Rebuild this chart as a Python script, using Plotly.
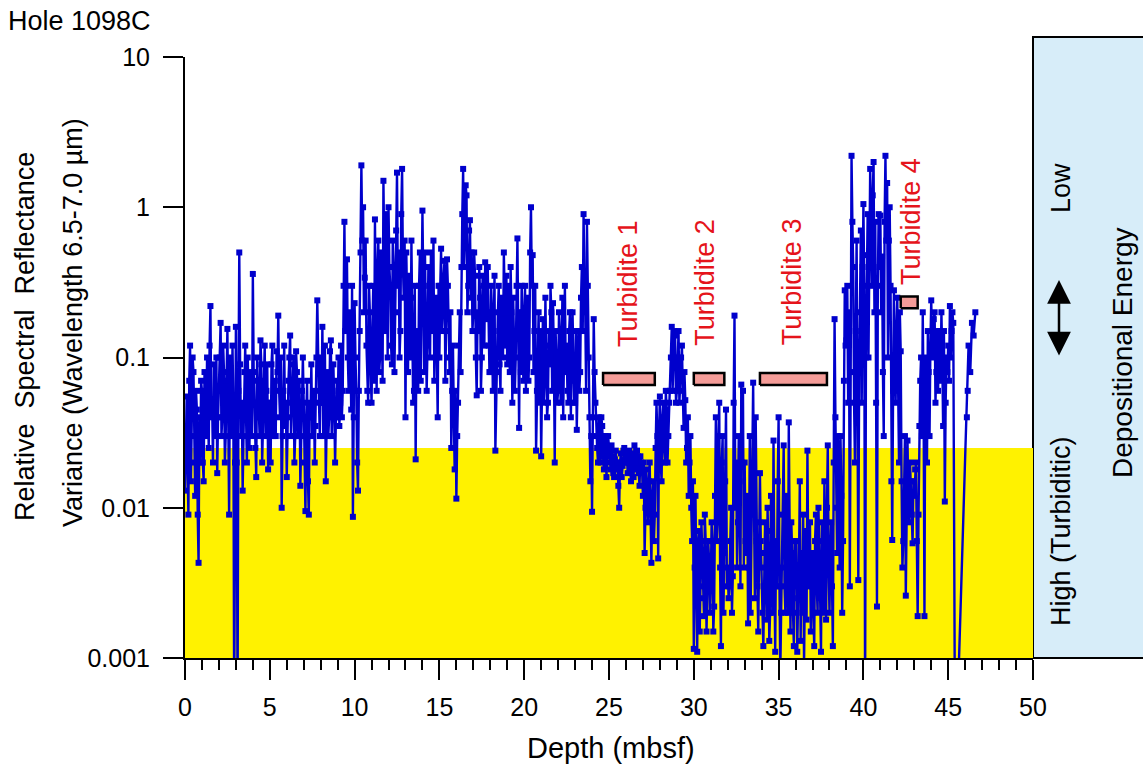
import plotly.graph_objects as go

# ---------------- data ----------------
# Relative spectral reflectance variance; each 5 m block holds samples at
# start + 0.1*k ("var_") and the interleaved samples at start + 0.05 + 0.1*k ("mid_")
block_start = [0.0, 5.0, 10.0, 15.0, 20.0, 25.0, 30.0, 35.0, 40.0]
sample_step = 0.1

var_00_05 = [0.013, 0.055, 0.009, 0.12, 0.03, 0.08, 0.012, 0.045, 0.0043, 0.02,
             0.06, 0.015, 0.04, 0.1, 0.025, 0.22, 0.05, 0.09, 0.03, 0.017,
             0.06, 0.17, 0.04, 0.08, 0.03, 0.155, 0.009, 0.06, 0.12, 0.0005,
             0.16, 0.0005, 0.5, 0.03, 0.013, 0.08, 0.04, 0.1, 0.025, 0.06,
             0.36, 0.05, 0.016, 0.07, 0.03, 0.09, 0.04, 0.12, 0.06, 0.018]
mid_00_05 = [0.03, 0.02, 0.07, 0.015, 0.1, 0.02, 0.06, 0.009, 0.04, 0.07,
             0.02, 0.08, 0.03, 0.05, 0.12, 0.04, 0.02, 0.05, 0.1, 0.04,
             0.1, 0.03, 0.12, 0.02, 0.07, 0.04, 0.1, 0.03, 0.05, 0.02,
             0.02, 0.06, 0.09, 0.05, 0.03, 0.12, 0.02, 0.05, 0.08, 0.03,
             0.08, 0.025, 0.1, 0.04, 0.13, 0.02, 0.07, 0.03, 0.09, 0.05]
var_05_10 = [0.05, 0.09, 0.03, 0.07, 0.11, 0.19, 0.04, 0.01, 0.06, 0.035,
             0.016, 0.07, 0.14, 0.05, 0.1, 0.03, 0.08, 0.045, 0.014, 0.06,
             0.05, 0.0095, 0.07, 0.009, 0.04, 0.03, 0.06, 0.035, 0.24, 0.05,
             0.1, 0.16, 0.05, 0.015, 0.08, 0.04, 0.13, 0.06, 0.045, 0.04,
             0.04, 0.035, 0.12, 0.06, 0.8, 0.3, 0.1, 0.2, 0.045, 0.0087]
mid_05_10 = [0.02, 0.12, 0.05, 0.03, 0.08, 0.06, 0.1, 0.03, 0.12, 0.05,
             0.04, 0.1, 0.03, 0.09, 0.02, 0.11, 0.03, 0.07, 0.03, 0.1,
             0.02, 0.04, 0.015, 0.05, 0.09, 0.04, 0.02, 0.1, 0.06, 0.03,
             0.05, 0.03, 0.12, 0.06, 0.03, 0.11, 0.03, 0.09, 0.02, 0.07,
             0.1, 0.05, 0.04, 0.3, 0.15, 0.45, 0.06, 0.12, 0.3, 0.04]
var_10_15 = [0.23, 0.06, 0.013, 0.15, 1.9, 1.0, 0.34, 0.12, 0.05, 0.2,
             0.05, 0.3, 0.83, 0.06, 0.6, 0.1, 0.25, 1.5, 0.15, 0.5,
             1.0, 0.3, 0.09, 0.4, 0.2, 1.7, 0.5, 0.15, 1.8, 0.25,
             0.04, 0.15, 0.35, 0.1, 0.25, 0.06, 0.021, 0.12, 0.3, 0.07,
             0.95, 0.08, 0.2, 0.12, 0.3, 0.5, 0.15, 0.07, 0.25, 0.04]
mid_10_15 = [0.1, 0.02, 0.06, 0.5, 0.6, 0.2, 0.6, 0.06, 0.3, 0.08,
             0.15, 0.07, 0.2, 0.4, 0.08, 0.5, 0.07, 0.4, 0.9, 0.1,
             0.4, 0.12, 0.6, 0.08, 0.7, 0.3, 0.1, 0.9, 0.4, 0.6,
             0.5, 0.08, 0.2, 0.6, 0.05, 0.3, 0.15, 0.06, 0.5, 0.2,
             0.3, 0.5, 0.06, 0.4, 0.1, 0.25, 0.6, 0.2, 0.1, 0.3]
var_15_20 = [0.1, 0.53, 0.2, 0.44, 0.15, 0.3, 0.08, 0.025, 0.12, 0.018,
             0.0115, 0.05, 0.2, 0.4, 1.8, 0.6, 1.2, 0.3, 0.82, 0.5,
             0.2, 0.35, 0.056, 0.15, 0.25, 0.1, 0.3, 0.43, 0.18, 0.12,
             0.08, 0.2, 0.15, 0.024, 0.1, 0.3, 0.06, 0.18, 0.5, 0.12,
             0.09, 0.2, 0.4, 0.05, 0.15, 0.1, 0.62, 0.034, 0.08, 0.2]
mid_15_20 = [0.3, 0.15, 0.35, 0.07, 0.45, 0.1, 0.2, 0.06, 0.04, 0.06,
             0.03, 0.12, 0.08, 0.9, 0.4, 1.4, 0.2, 0.7, 0.25, 0.15,
             0.5, 0.1, 0.2, 0.4, 0.06, 0.35, 0.12, 0.25, 0.4, 0.08,
             0.3, 0.06, 0.35, 0.08, 0.2, 0.09, 0.25, 0.1, 0.2, 0.35,
             0.3, 0.08, 0.2, 0.25, 0.06, 0.3, 0.15, 0.2, 0.3, 0.07]
var_20_25 = [0.12, 0.06, 0.25, 0.1, 1.0, 0.48, 0.15, 0.024, 0.1, 0.05,
             0.022, 0.18, 0.07, 0.12, 0.05, 0.09, 0.2, 0.23, 0.02, 0.1,
             0.06, 0.15, 0.08, 0.04, 0.3, 0.12, 0.05, 0.2, 0.07, 0.1,
             0.05, 0.033, 0.15, 0.08, 0.4, 0.9, 0.2, 0.8, 0.1, 0.015,
             0.0094, 0.18, 0.05, 0.025, 0.04, 0.02, 0.035, 0.018, 0.03, 0.022]
mid_20_25 = [0.3, 0.15, 0.07, 0.5, 0.3, 0.08, 0.3, 0.06, 0.2, 0.15,
             0.08, 0.05, 0.25, 0.04, 0.15, 0.3, 0.06, 0.1, 0.15, 0.05,
             0.2, 0.05, 0.25, 0.1, 0.08, 0.06, 0.15, 0.04, 0.2, 0.05,
             0.15, 0.1, 0.06, 0.25, 0.15, 0.35, 0.06, 0.3, 0.04, 0.03,
             0.04, 0.08, 0.03, 0.02, 0.03, 0.04, 0.022, 0.03, 0.016, 0.03]
var_25_30 = [0.025, 0.018, 0.022, 0.016, 0.024, 0.02, 0.01, 0.023, 0.019, 0.025,
             0.02, 0.017, 0.024, 0.015, 0.021, 0.026, 0.018, 0.022, 0.014, 0.02,
             0.012, 0.005, 0.018, 0.008, 0.02, 0.0043, 0.015, 0.009, 0.05, 0.0046,
             0.055, 0.015, 0.05, 0.02, 0.045, 0.03, 0.06, 0.16, 0.1, 0.14,
             0.06, 0.15, 0.07, 0.12, 0.034, 0.052, 0.025, 0.012, 0.03, 0.006]
mid_25_30 = [0.02, 0.026, 0.017, 0.021, 0.018, 0.014, 0.02, 0.016, 0.024, 0.02,
             0.023, 0.02, 0.018, 0.023, 0.016, 0.02, 0.024, 0.017, 0.022, 0.018,
             0.02, 0.01, 0.012, 0.015, 0.009, 0.012, 0.006, 0.025, 0.03, 0.03,
             0.02, 0.04, 0.025, 0.06, 0.02, 0.05, 0.1, 0.06, 0.15, 0.05,
             0.1, 0.05, 0.1, 0.06, 0.08, 0.02, 0.04, 0.02, 0.01, 0.015]
var_30_35 = [0.00115, 0.012, 0.0011, 0.007, 0.003, 0.005, 0.0019, 0.006, 0.0028, 0.0045,
             0.003, 0.006, 0.0022, 0.04, 0.008, 0.05, 0.0012, 0.03, 0.005, 0.045,
             0.004, 0.003, 0.01, 0.0035, 0.19, 0.02, 0.008, 0.015, 0.066, 0.06,
             0.02, 0.005, 0.0017, 0.03, 0.009, 0.068, 0.0025, 0.006, 0.0015, 0.017,
             0.004, 0.0012, 0.008, 0.0018, 0.005, 0.002, 0.007, 0.028, 0.0011, 0.003]
mid_30_35 = [0.004, 0.003, 0.006, 0.0015, 0.008, 0.0025, 0.009, 0.0015, 0.006, 0.002,
             0.008, 0.0015, 0.012, 0.006, 0.03, 0.004, 0.02, 0.002, 0.015, 0.003,
             0.0025, 0.006, 0.002, 0.05, 0.01, 0.004, 0.03, 0.003, 0.02, 0.004,
             0.006, 0.012, 0.004, 0.002, 0.02, 0.01, 0.04, 0.003, 0.008, 0.006,
             0.002, 0.005, 0.003, 0.01, 0.0013, 0.012, 0.002, 0.004, 0.006, 0.015]
var_35_40 = [0.04, 0.0008, 0.004, 0.026, 0.002, 0.006, 0.037, 0.0015, 0.005, 0.0012,
             0.003, 0.0011, 0.004, 0.0013, 0.002, 0.0009, 0.007, 0.024, 0.003, 0.0015,
             0.005, 0.0012, 0.009, 0.002, 0.006, 0.0011, 0.004, 0.015, 0.0018, 0.026,
             0.002, 0.008, 0.0012, 0.18, 0.01, 0.03, 0.004, 0.012, 0.006, 0.28,
             0.13, 0.05, 0.003, 2.2, 0.4, 0.02, 0.6, 0.0033, 0.2, 0.05]
mid_35_40 = [0.003, 0.002, 0.009, 0.003, 0.012, 0.002, 0.004, 0.008, 0.002, 0.006,
             0.006, 0.0025, 0.015, 0.005, 0.009, 0.003, 0.0018, 0.004, 0.008, 0.003,
             0.002, 0.006, 0.003, 0.01, 0.0025, 0.008, 0.002, 0.005, 0.01, 0.004,
             0.005, 0.003, 0.02, 0.04, 0.005, 0.015, 0.03, 0.002, 0.07, 0.12,
             0.3, 0.2, 0.08, 0.8, 0.05, 0.15, 0.05, 0.08, 0.7, 0.4]
var_40_45 = [1.05, 0.0005, 0.48, 0.1, 1.8, 0.3, 2.0, 0.8, 0.0022, 0.9,
             0.88, 0.47, 0.03, 2.2, 1.45, 0.6, 0.3, 0.0061, 0.28, 0.05,
             0.25, 0.02, 0.11, 0.004, 0.012, 0.0026, 0.028, 0.008, 0.015, 0.0058,
             0.012, 0.02, 0.0019, 0.035, 0.1, 0.2, 0.0019, 0.06, 0.15, 0.03,
             0.24, 0.1, 0.2, 0.08, 0.06, 0.15, 0.2, 0.035, 0.011, 0.1]
mid_40_45 = [0.3, 0.1, 0.9, 0.5, 0.8, 1.2, 0.2, 0.05, 0.3, 0.4,
             0.2, 0.08, 0.8, 0.6, 0.1, 1.0, 0.015, 0.06, 0.1, 0.15,
             0.06, 0.2, 0.015, 0.006, 0.03, 0.01, 0.012, 0.02, 0.009, 0.015,
             0.018, 0.006, 0.009, 0.07, 0.03, 0.05, 0.1, 0.02, 0.08, 0.12,
             0.12, 0.18, 0.05, 0.15, 0.12, 0.07, 0.1, 0.15, 0.05, 0.08]
tail_depth = [45.0, 45.05, 45.1, 45.15, 45.2, 45.25, 45.3, 45.4, 45.5,
              46.1, 46.15, 46.2, 46.3, 46.4, 46.5, 46.6]
tail_var = [0.12, 0.07, 0.22, 0.1, 0.15, 0.2, 0.17, 0.0003, 0.0003,
            0.04, 0.06, 0.12, 0.08, 0.17, 0.14, 0.2]

# turbidite intervals (depth, mbsf) and bar heights
turb_names = ["Turbidite 1", "Turbidite 2", "Turbidite 3", "Turbidite 4"]
turb_top = [24.65, 30.0, 33.9, 42.2]
turb_bottom = [27.7, 31.8, 37.85, 43.2]
turb_low = [0.0656, 0.0656, 0.0656, 0.213]
turb_high = [0.0789, 0.0789, 0.0789, 0.2545]
turb_label_x = [26.12, 30.65, 35.8, 42.8]

turbiditic_threshold = 0.025
x_ticks = [0, 5, 10, 15, 20, 25, 30, 35, 40, 45, 50]
y_ticks = [0.001, 0.01, 0.1, 1, 10]
y_tick_text = ["0.001", "0.01", "0.1", "1", "10"]

# ---------------- assemble series ----------------
main_blocks = [var_00_05, var_05_10, var_10_15, var_15_20, var_20_25,
               var_25_30, var_30_35, var_35_40, var_40_45]
mid_blocks = [mid_00_05, mid_05_10, mid_10_15, mid_15_20, mid_20_25,
              mid_25_30, mid_30_35, mid_35_40, mid_40_45]
depth, variance = [], []
for start, vals, mids in zip(block_start, main_blocks, mid_blocks):
    for k in range(len(vals)):
        depth.append(round(start + sample_step * k, 3))
        variance.append(vals[k])
        depth.append(round(start + sample_step * k + sample_step / 2, 3))
        variance.append(mids[k])
depth += tail_depth
variance += tail_var

# ---------------- layout geometry (page pixels) ----------------
W, H = 1143, 768
PL, PR, PT, PB = 185, 1033, 57, 658          # plot area
L, T, R, B = PL, PT, W - PR, H - PB
PW, PH = PR - PL, PB - PT


def px(x):
    return (x - PL) / PW


def py(y):
    return (PB - y) / PH


FONT = "Liberation Sans, Arial, Helvetica, sans-serif"
BLUE = "#0000CC"
RED = "#E5141B"

fig = go.Figure()

# yellow turbiditic band
fig.add_trace(go.Scatter(
    x=[0, 50, 50, 0, 0],
    y=[0.001, 0.001, turbiditic_threshold, turbiditic_threshold, 0.001],
    mode="lines", fill="toself", fillcolor="#FFF200",
    line=dict(width=0, color="#FFF200"), hoverinfo="skip", showlegend=False))

# data
fig.add_trace(go.Scatter(
    x=depth, y=variance, mode="lines+markers",
    line=dict(color=BLUE, width=2.4),
    marker=dict(symbol="square", size=6, color=BLUE),
    showlegend=False))

# turbidite bars
for a, b, lo, hi in zip(turb_top, turb_bottom, turb_low, turb_high):
    fig.add_trace(go.Scatter(
        x=[a, b, b, a, a], y=[lo, lo, hi, hi, lo],
        mode="lines", fill="toself", fillcolor="#F59C98",
        line=dict(color="black", width=2.5), hoverinfo="skip", showlegend=False))

annotations = []
# turbidite labels
label_y = [284, 282, 282, 221]
for name, lx, ly in zip(turb_names, turb_label_x, label_y):
    annotations.append(dict(
        x=lx, xref="x", y=py(ly), yref="paper", text=name, textangle=-90,
        showarrow=False, xanchor="center", yanchor="middle",
        font=dict(family=FONT, size=27, color=RED)))

# y-axis title (two lines)
annotations.append(dict(
    x=px(25), y=py(337), xref="paper", yref="paper",
    text="Relative  Spectral  Reflectance", textangle=-90, showarrow=False,
    xanchor="center", yanchor="middle", font=dict(family=FONT, size=27, color="black")))
annotations.append(dict(
    x=px(73), y=py(323), xref="paper", yref="paper",
    text="Variance (Wavelength 6.5-7.0 \u00b5m)", textangle=-90, showarrow=False,
    xanchor="center", yanchor="middle", font=dict(family=FONT, size=27, color="black")))

# x-axis title
annotations.append(dict(
    x=px(611), y=py(748), xref="paper", yref="paper", text="Depth (mbsf)",
    showarrow=False, xanchor="center", yanchor="middle",
    font=dict(family=FONT, size=29, color="black")))

# hole label
annotations.append(dict(
    x=px(6), y=py(21), xref="paper", yref="paper", text="Hole 1098C",
    showarrow=False, xanchor="left", yanchor="middle",
    font=dict(family=FONT, size=27, color="black")))

# right panel texts
annotations.append(dict(
    x=px(1061), y=py(188), xref="paper", yref="paper", text="Low", textangle=-90,
    showarrow=False, xanchor="center", yanchor="middle",
    font=dict(family=FONT, size=27, color="black")))
annotations.append(dict(
    x=px(1061), y=py(531), xref="paper", yref="paper", text="High (Turbiditic)",
    textangle=-90, showarrow=False, xanchor="center", yanchor="middle",
    font=dict(family=FONT, size=27, color="black")))
annotations.append(dict(
    x=px(1122), y=py(353), xref="paper", yref="paper", text="Depositional Energy",
    textangle=-90, showarrow=False, xanchor="center", yanchor="middle",
    font=dict(family=FONT, size=28, color="black")))
# double arrow
annotations.append(dict(
    x=px(1059), y=py(280), xref="paper", yref="paper", ax=0, ay=77,
    axref="pixel", ayref="pixel", text="", showarrow=True,
    arrowhead=2, arrowside="end+start", arrowsize=1.9, arrowwidth=2.5,
    arrowcolor="black"))

shapes = [dict(
    type="rect", xref="paper", yref="paper",
    x0=1.0, x1=px(1160), y0=0, y1=py(37),
    fillcolor="#D7EDF9", line=dict(color="black", width=2), layer="below")]

fig.update_layout(
    width=W, height=H,
    margin=dict(l=L, r=R, t=T, b=B, pad=0),
    paper_bgcolor="white", plot_bgcolor="white",
    font=dict(family=FONT, color="black"),
    annotations=annotations, shapes=shapes, showlegend=False,
    xaxis=dict(
        range=[0, 50], tickmode="array", tickvals=x_ticks,
        ticks="outside", ticklen=20, tickwidth=2, tickcolor="black",
        showline=True, linewidth=2, linecolor="black",
        showgrid=False, zeroline=False,
        tickfont=dict(family=FONT, size=25, color="black"),
        ticklabelstandoff=6,
        minor=dict(tickmode="linear", tick0=0, dtick=1, ticks="outside",
                   ticklen=10, tickwidth=2, tickcolor="black", showgrid=False)),
    yaxis=dict(
        type="log", range=[-3, 1], tickmode="array",
        tickvals=y_ticks, ticktext=y_tick_text,
        ticks="outside", ticklen=20, tickwidth=2, tickcolor="black",
        showline=True, linewidth=2, linecolor="black",
        showgrid=False, zeroline=False,
        tickfont=dict(family=FONT, size=25, color="black"),
        ticklabelstandoff=8),
)

# remove the default page margin so the figure fills the 1143x768 window
fig.write_html(
    "out.html",
    config={"displayModeBar": False},
    post_script="document.body.style.margin='0';document.body.style.overflow='hidden';")
